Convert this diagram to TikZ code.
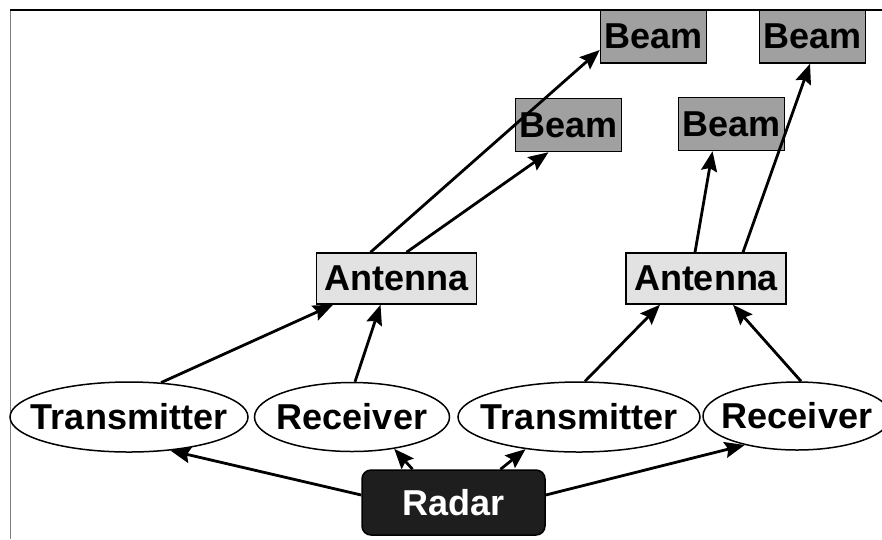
\documentclass[tikz,border=0pt]{standalone}
\usepackage{fontspec}
\setmainfont{Liberation Sans}
\usetikzlibrary{shapes.geometric,arrows.meta}

\definecolor{beamgray}{HTML}{A0A0A0}
\definecolor{antgray}{HTML}{E2E2E2}
\definecolor{radarblack}{HTML}{1E1E1E}

\tikzset{
  lbl/.style={font=\fontsize{36}{40}\selectfont\bfseries, inner sep=0pt},
  beambox/.style={lbl, draw=black, line width=1.5pt, fill=beamgray,
    minimum width=106pt, minimum height=53pt},
  antbox/.style={lbl, draw=black, line width=1.5pt, fill=antgray,
    minimum width=160pt, minimum height=51pt},
  unit/.style={lbl, ellipse, draw=black, line width=1.5pt, fill=white},
  radarbox/.style={lbl, rounded corners=9pt, draw=black, line width=1.5pt,
    fill=radarblack, text=white, minimum width=183pt, minimum height=65pt},
  link/.style={line width=2.8pt, -{Stealth[length=20pt,width=16pt,inset=3pt]}},
}
% text of zero width, so the ellipse keeps its given size
\newcommand{\zerowide}[1]{\makebox[0pt]{#1}}

\begin{document}
\begin{tikzpicture}[x=1pt, y=-1pt]
  \useasboundingbox (0,0) rectangle (882,539);

  % frame edges
  \draw[gray, line width=1pt] (10,10) -- (10,539);
  \draw[black, line width=1.6pt] (10,10) -- (882,10);

  % beams
  \node[beambox] (beamA) at (653.5,36.5) {Beam};
  \node[beambox] (beamB) at (812.5,36.5) {Beam};
  \node[beambox] (beamC) at (568.5,125) {Beam};
  \node[beambox] (beamD) at (731.5,124) {Beam};

  % antennas
  \node[antbox] (antL) at (396.5,278.5) {Antenna};
  \node[antbox] (antR) at (706,278.5) {Antenna};

  % transmitters and receivers
  \node[unit, minimum width=238pt, minimum height=70pt] (txL) at (129,417) {\zerowide{Transmitter}};
  \node[unit, minimum width=195pt, minimum height=69pt] (rxL) at (352,417) {\zerowide{Receiver}};
  \node[unit, minimum width=242pt, minimum height=70pt] (txR) at (579,417) {\zerowide{Transmitter}};
  \node[unit, minimum width=188pt, minimum height=68pt] (rxR) at (797,416) {\zerowide{Receiver}};

  % radar
  \node[radarbox] (radar) at (453.5,502.5) {Radar};

  % radar to units
  \draw[link] ([yshift=7.5pt]radar.west) -- (txL.-39);
  \draw[link] ([xshift=-41pt]radar.north) -- (rxL.-37);
  \draw[link] ([xshift=47pt]radar.north) -- (txR.-149);
  \draw[link] ([yshift=7.5pt]radar.east) -- (rxR.-151);

  % units to antennas
  \draw[link] (txL.47) -- ([xshift=-63.5pt]antL.south);
  \draw[link] ([xshift=3pt]rxL.north) -- ([xshift=-16pt]antL.south);
  \draw[link] ([xshift=6pt]txR.north) -- ([xshift=-46pt]antR.south);
  \draw[link] ([xshift=4pt]rxR.north) -- ([xshift=27pt]antR.south);

  % antennas to beams
  \draw[link] ([xshift=-26pt]antL.north) -- ([yshift=-13.5pt]beamA.west);
  \draw[link] ([xshift=10pt]antL.north) -- ([xshift=-20pt]beamC.south);
  \draw[link] ([xshift=-11pt]antR.north) -- ([xshift=-19pt]beamD.south);
  \draw[link] ([xshift=37pt]antR.north) -- ([xshift=-2.5pt]beamB.south);
\end{tikzpicture}
\end{document}
